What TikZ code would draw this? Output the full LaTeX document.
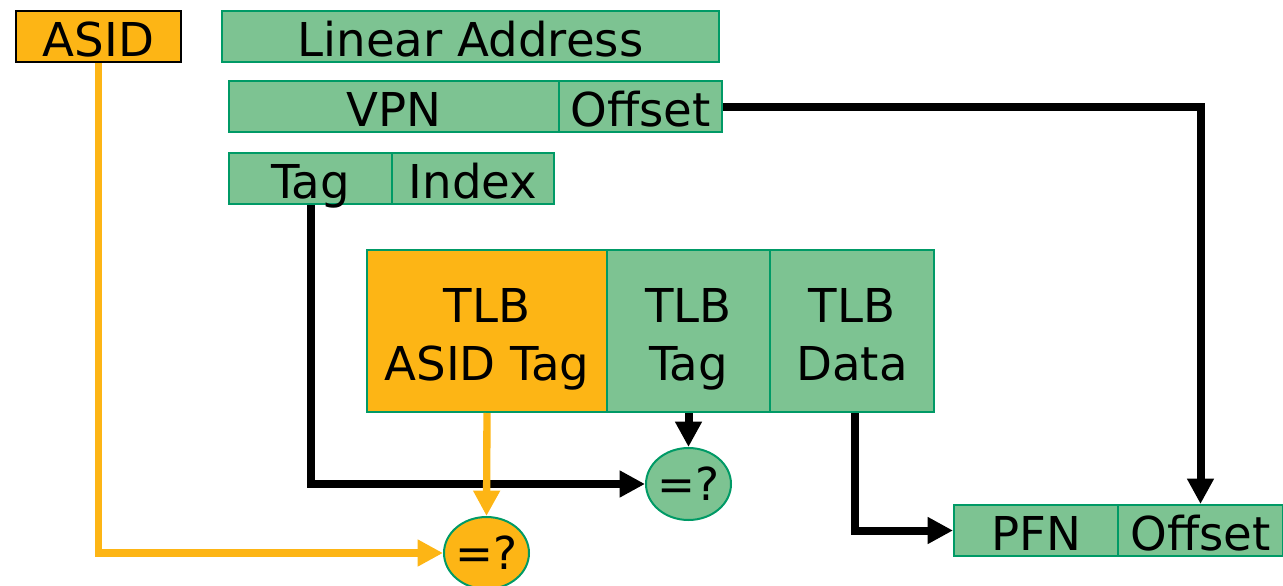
\documentclass[tikz,border=0pt]{standalone}
\usepackage{fontspec}
\setmainfont{DejaVu Sans}
\usetikzlibrary{shapes.geometric,arrows.meta}
\definecolor{gfill}{RGB}{125,195,146}
\definecolor{gline}{RGB}{0,154,102}
\definecolor{ofill}{RGB}{253,181,21}
\newcommand{\topstrut}{\rule{0pt}{39pt}}
\newcommand{\botstrut}{\rule[-9pt]{0pt}{9pt}}
\tikzset{
  field/.style={draw=gline, fill=gfill, line width=1.5pt, inner sep=0pt, font=\fontsize{35}{43.5}\selectfont, align=center},
  one/.style={text height=34pt, text depth=4pt},
  ofield/.style={field, fill=ofill},
  cmp/.style={ellipse, draw=gline, line width=1.5pt, inner sep=0pt, minimum width=63.75pt, minimum height=54pt, font=\fontsize{34}{43.5}\selectfont},
  blk/.style={draw=black, line width=6pt, -{Triangle[length=19pt,width=19pt]}},
  org/.style={draw=ofill, line width=5.5pt, -{Triangle[length=19pt,width=19pt]}},
}
\begin{document}
\begin{tikzpicture}[x=0.75pt,y=-0.75pt]
\useasboundingbox (0,0) rectangle (1283,586);
\clip (0,0) rectangle (1283,586);
% top row
\node[ofield, one, draw=black, minimum width=123.75pt, minimum height=38.25pt] (asid) at (98.5,36.5) {ASID};
\node[field, one, minimum width=372.75pt, minimum height=38.25pt] (la) at (470.5,36.5) {Linear Address};
% VPN / Offset
\node[field, one, minimum width=247.5pt, minimum height=36.75pt] (vpn) at (394,106.5) {VPN};
\node[field, one, minimum width=122.25pt, minimum height=36.75pt] (off) at (640.5,106.5) {Offset};
% Tag / Index
\node[field, one, minimum width=122.25pt, minimum height=36.75pt] (tag) at (310.5,178.5) {Tag};
\node[field, one, minimum width=121.5pt, minimum height=36.75pt] (idx) at (473,178.5) {Index};
% TLB entry
\node[ofield, minimum width=180pt, minimum height=121.5pt] (tasid) at (487,331) {\topstrut TLB\\ASID Tag\botstrut};
\node[field, minimum width=122.25pt, minimum height=121.5pt] (ttag) at (688.5,331) {\topstrut TLB\\Tag\botstrut};
\node[field, minimum width=123pt, minimum height=121.5pt] (tdata) at (852,331) {\topstrut TLB\\Data\botstrut};
% comparators
\node[cmp, fill=gfill] (eqg) at (688.5,484) {\makebox[0pt]{=?}};
\node[cmp, fill=ofill] (eqo) at (486.5,553) {\makebox[0pt]{=?}};
% PFN / Offset
\node[field, one, minimum width=123pt, minimum height=38.25pt] (pfn) at (1036,530.5) {PFN};
\node[field, one, minimum width=123.75pt, minimum height=38.25pt] (poff) at (1200.5,530.5) {Offset};
% connectors
\draw[blk] (off.east) -| (poff.north);
\draw[blk] (tag.south) |- (eqg.west);
\draw[blk] (ttag.south) -- (eqg.north);
\draw[blk] ([xshift=2.25pt]tdata.south) |- (pfn.west);
\draw[org] (asid.south) |- (eqo.west);
\draw[org] (tasid.south) -- (eqo.north);
\end{tikzpicture}
\end{document}
